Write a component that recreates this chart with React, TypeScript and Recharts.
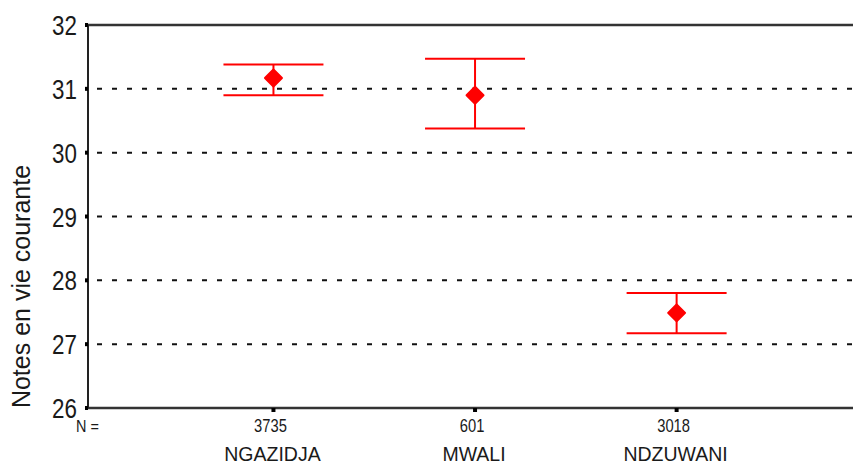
import React from "react";
import {
  ComposedChart,
  Scatter,
  ErrorBar,
  XAxis,
  YAxis,
  CartesianGrid,
  ReferenceLine,
} from "recharts";

const regions = ["NGAZIDJA", "MWALI", "NDZUWANI"];
const counts = ["3735", "601", "3018"];
const means = [31.17, 30.9, 27.49];
const lower = [30.9, 30.38, 27.17];
const upper = [31.38, 31.47, 27.8];
const yTicks = [26, 27, 28, 29, 30, 31, 32];

const data = regions.map((name, i) => ({
  x: i + 1,
  name,
  mean: means[i],
  err: [means[i] - lower[i], upper[i] - means[i]],
}));

const RED = "#ff0000";
const INK = "#1a1a1a";
const SANS = "'Liberation Sans', Arial, sans-serif";

function Diamond(props: any) {
  const { cx, cy } = props;
  if (cx == null || cy == null) return null;
  const r = 8.5;
  return (
    <polygon
      points={`${cx},${cy - r} ${cx + r},${cy} ${cx},${cy + r} ${cx - r},${cy}`}
      fill={RED}
      stroke={RED}
      strokeWidth={2}
      strokeLinejoin="round"
    />
  );
}

// narrow look of the original: squeeze Liberation Sans horizontally
function ValueTick(props: any) {
  const { x, y, payload } = props;
  return (
    <text
      transform={`translate(${x},${y}) scale(0.8,1)`}
      textAnchor="end"
      dy="0.36em"
      fontFamily={SANS}
      fontSize={28}
      fill={INK}
    >
      {payload.value}
    </text>
  );
}

function RegionTick(props: any) {
  const { x, payload } = props;
  const i = Number(payload.value) - 1;
  if (i < 0 || i >= regions.length) return null;
  return (
    <g>
      <text
        transform={`translate(${x - 3},432) scale(0.82,1)`}
        textAnchor="middle"
        fontFamily={SANS}
        fontSize={18}
        fill={INK}
      >
        {counts[i]}
      </text>
      <text x={x - 1} y={461} textAnchor="middle" fontFamily={SANS} fontSize={19.5} fill={INK}>
        {regions[i]}
      </text>
    </g>
  );
}

export default function App() {
  return (
    <div style={{ position: "absolute", left: 0, top: 0, width: 853, height: 466, background: "#fff" }}>
      <ComposedChart width={853} height={466} data={data} margin={{ top: 25, right: 0, bottom: 0, left: 0 }}>
        <CartesianGrid
          vertical={false}
          stroke="#111"
          strokeWidth={2}
          strokeDasharray="5 10"
          strokeDashoffset={-9}
        />
        <XAxis
          dataKey="x"
          type="number"
          domain={[0.08, 3.875]}
          ticks={[1, 2, 3]}
          allowDataOverflow
          height={58}
          axisLine={{ stroke: "#333", strokeWidth: 2.5 }}
          tickLine={{ stroke: "#000", strokeWidth: 4 }}
          tickSize={4}
          tick={<RegionTick />}
        />
        <YAxis
          dataKey="mean"
          type="number"
          domain={[26, 32]}
          ticks={yTicks}
          interval={0}
          width={88}
          axisLine={{ stroke: "#222", strokeWidth: 2 }}
          tickLine={{ stroke: "#000", strokeWidth: 4 }}
          tickSize={3}
          tickMargin={8}
          tick={<ValueTick />}
          label={{
            value: "Notes en vie courante",
            angle: -90,
            position: "insideLeft",
            offset: 0,
            dx: 21,
            dy: 70,
            style: { textAnchor: "middle", fill: INK, fontSize: 25, fontFamily: SANS },
          }}
        />
        <ReferenceLine y={32} stroke="#333" strokeWidth={2.5} />
        <Scatter dataKey="mean" fill={RED} shape={<Diamond />} isAnimationActive={false}>
          <ErrorBar dataKey="err" direction="y" width={50} stroke={RED} strokeWidth={2} />
        </Scatter>
      </ComposedChart>
      <div
        style={{
          position: "absolute",
          left: 76,
          top: 418,
          fontFamily: SANS,
          fontSize: 17,
          lineHeight: "18px",
          color: INK,
          transform: "scaleX(0.85)",
          transformOrigin: "left top",
        }}
      >
        N =
      </div>
    </div>
  );
}
